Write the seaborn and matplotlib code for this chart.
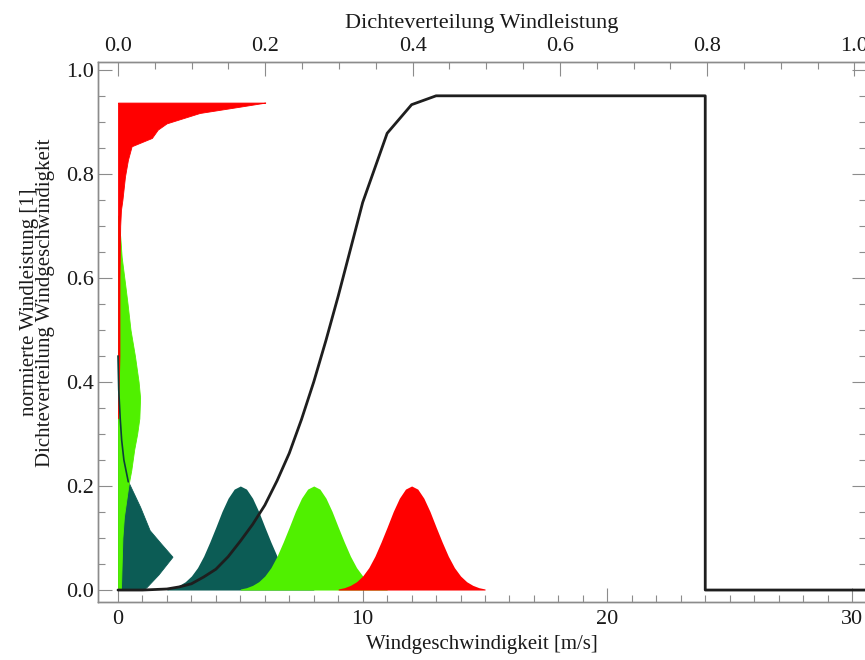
import matplotlib
matplotlib.use("Agg")
import matplotlib.pyplot as plt
import seaborn as sns
from matplotlib.ticker import MultipleLocator, FormatStrFormatter

# Normalised turbine power curve (wind speed in m/s -> output / rated)
wind_speed = [0, 1, 2, 2.5, 3, 3.5, 4, 4.5, 5, 5.5, 6, 6.5, 7, 7.5, 8, 8.5,
              9, 9.5, 10, 11, 12, 13, 24, 24, 31]
power_norm = [0, 0, 0.002, 0.006, 0.012, 0.025, 0.040, 0.064, 0.094, 0.126,
              0.163, 0.21, 0.263, 0.328, 0.40, 0.48, 0.565, 0.655, 0.745,
              0.878, 0.933, 0.95, 0.95, 0, 0]

# Wind-speed distributions: common bell profile (offset from centre, density)
bell_offset = [-3.0, -2.75, -2.5, -2.25, -2.0, -1.75, -1.5, -1.25, -1.0, -0.75,
               -0.5, -0.25, 0.0, 0.25, 0.5, 0.75, 1.0, 1.25, 1.5, 1.75, 2.0,
               2.25, 2.5, 2.75, 3.0]
bell_density = [0.002, 0.0045, 0.009, 0.016, 0.027, 0.043, 0.065, 0.092, 0.121,
                0.151, 0.1765, 0.194, 0.2, 0.194, 0.1765, 0.151, 0.121, 0.092,
                0.065, 0.043, 0.027, 0.016, 0.009, 0.0045, 0.002]
mean_speeds = [5, 8, 12]
colors = ["#0c5c55", "#50f000", "#ff0000"]

# Resulting power distributions (normalised power level, density)
dark_power = [0.0, 0.006, 0.03, 0.064, 0.09, 0.115, 0.16, 0.208, 0.25, 0.288,
              0.33, 0.385, 0.45]
dark_dens = [0.034, 0.039, 0.055, 0.074, 0.058, 0.043, 0.030, 0.014, 0.008,
             0.005, 0.003, 0.001, 0.0]
green_power = [0.0, 0.05, 0.10, 0.14, 0.20, 0.23, 0.27, 0.30, 0.33, 0.37, 0.40,
               0.45, 0.50, 0.55, 0.59, 0.64, 0.68, 0.72]
green_dens = [0.004, 0.005, 0.006, 0.008, 0.014, 0.018, 0.022, 0.026, 0.029,
              0.030, 0.028, 0.023, 0.017, 0.013, 0.0095, 0.005, 0.003, 0.0]
red_power = [0.33, 0.45, 0.60, 0.70, 0.73, 0.75, 0.795, 0.827, 0.853, 0.869,
             0.885, 0.897, 0.917, 0.929, 0.936, 0.937]
red_dens = [0.0, 0.002, 0.002, 0.003, 0.004, 0.006, 0.0095, 0.0135, 0.0185,
            0.046, 0.054, 0.066, 0.111, 0.165, 0.196, 0.2]

sns.set_theme(style="ticks")
plt.rcParams["font.family"] = ["Liberation Serif", "DejaVu Serif"]
axis_grey = "#8c8c8c"
text_col = "#1a1a1a"

fig = plt.figure(figsize=(8.65, 6.6), dpi=100)
fig.patch.set_facecolor("white")
ax = fig.add_axes([98 / 865, 58 / 660, 768 / 865, 540 / 660])
ax_top = ax.twiny()
ax.set_zorder(ax_top.get_zorder() + 1)
ax.patch.set_visible(False)

speed_scale = 30.1
xlim = (-0.817, 30.57)
ax.set_xlim(*xlim)
ax_top.set_xlim(xlim[0] / speed_scale, xlim[1] / speed_scale)
ax.set_ylim(-0.023, 1.015)

# Power distributions drawn sideways against the top axis
for pw, dn, c in [(dark_power, dark_dens, colors[0]),
                  (green_power, green_dens, colors[1]),
                  (red_power, red_dens, colors[2])]:
    ax_top.fill_betweenx(pw, 0, dn, color=c, lw=0.6, edgecolor=c)
# outline of the thin upper tail of the low-wind power distribution
ax_top.plot(dark_dens[7:], dark_power[7:], color="#0a3f3a", lw=1.2, zorder=3)

# Wind speed distributions
for m, c in zip(mean_speeds, colors):
    xs = [m + o for o in bell_offset]
    ax.fill_between(xs, 0, bell_density, color=c, lw=0)

# Power curve
sns.lineplot(x=wind_speed, y=power_norm, ax=ax, color="#1e1e1e", lw=2.0,
             sort=False, estimator=None)

ax.xaxis.set_major_locator(MultipleLocator(10))
ax.xaxis.set_minor_locator(MultipleLocator(1))
ax.yaxis.set_major_locator(MultipleLocator(0.2))
ax.yaxis.set_minor_locator(MultipleLocator(0.05))
ax.yaxis.set_major_formatter(FormatStrFormatter("%.1f"))
ax_top.xaxis.set_major_locator(MultipleLocator(0.2))
ax_top.xaxis.set_minor_locator(MultipleLocator(0.05))
ax_top.xaxis.set_major_formatter(FormatStrFormatter("%.1f"))

for a in (ax, ax_top):
    a.tick_params(which="both", direction="in", color=axis_grey,
                  labelcolor=text_col, labelsize=16, width=0.8)
    a.tick_params(which="major", length=10)
    a.tick_params(which="minor", length=5)
    for s in a.spines.values():
        s.set_color(axis_grey)
        s.set_linewidth(1.0)
ax.tick_params(axis="y", which="both", left=True, right=True)
ax.tick_params(axis="x", pad=6)
ax.tick_params(axis="y", pad=3)
ax_top.tick_params(axis="x", pad=4)

ax.set_xlabel("Windgeschwindigkeit [m/s]", fontsize=15, color=text_col,
              labelpad=4)
ax_top.set_xlabel("Dichteverteilung Windleistung", fontsize=16,
                  color=text_col, labelpad=7)
ax.set_ylabel("normierte Windleistung [1]\nDichteverteilung Windgeschwindigkeit",
              fontsize=15, color=text_col, linespacing=0.78)
ax.yaxis.set_label_coords(-0.056, 0.555)

fig.savefig("out.png", dpi=100, facecolor="white")
